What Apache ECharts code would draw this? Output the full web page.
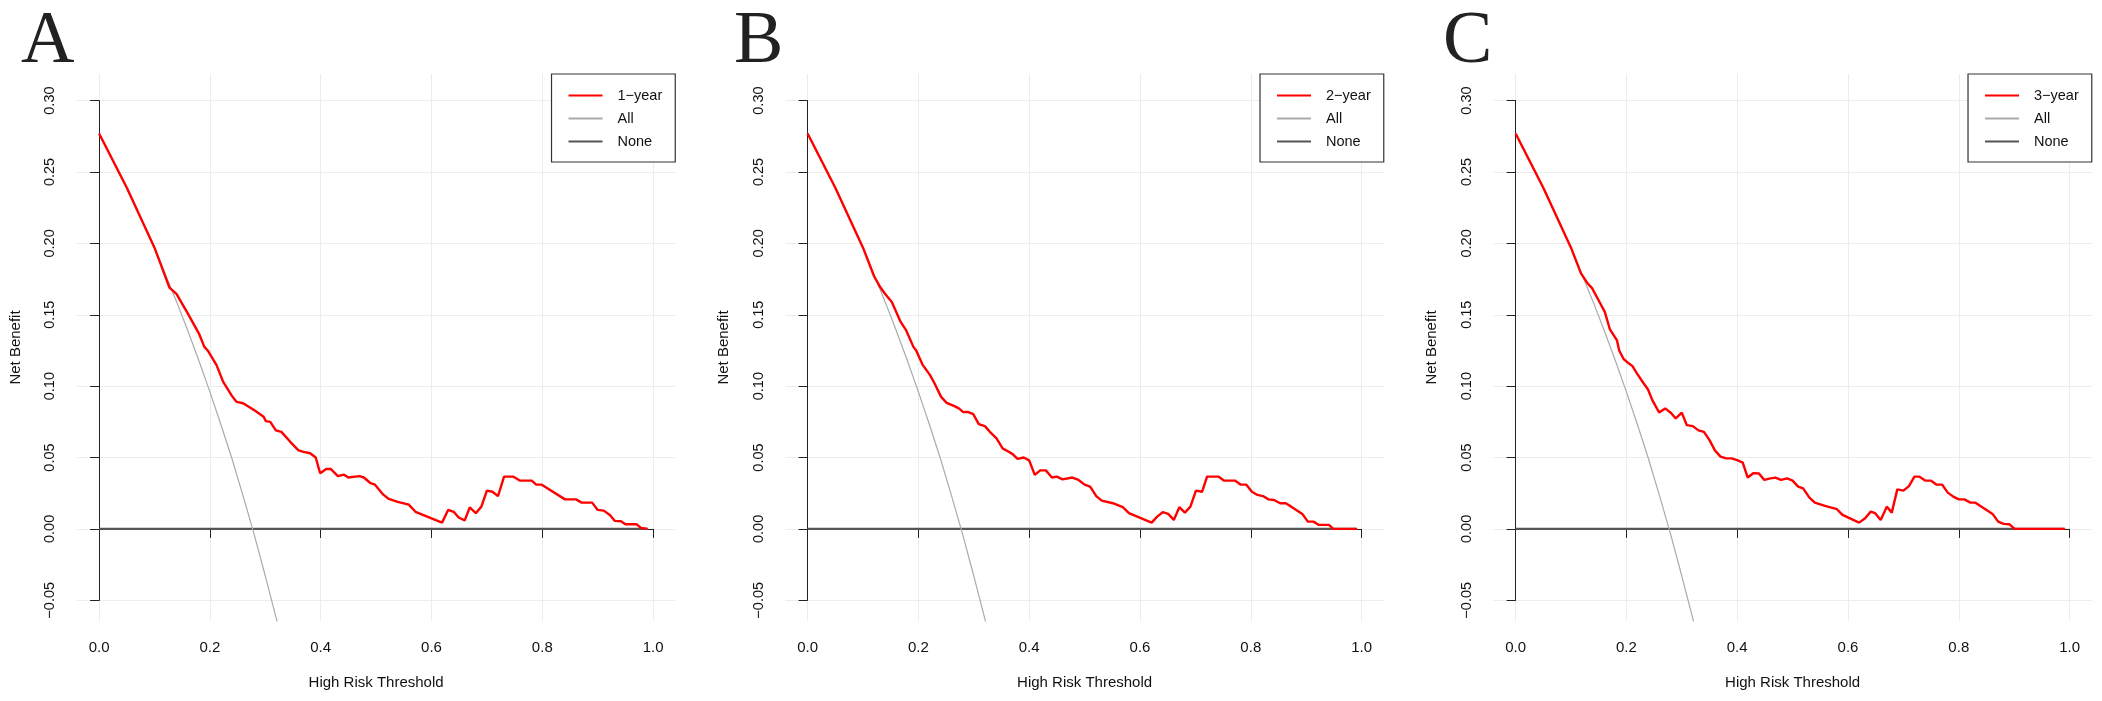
<!DOCTYPE html>
<html>
<head>
<meta charset="utf-8">
<title>Decision curves</title>
<script src="https://cdn.jsdelivr.net/npm/echarts@6/dist/echarts.min.js"></script>
<style>
    html, body { margin: 0; padding: 0; background: #fff; }
    #main { width: 2102px; height: 701px; }
</style>
</head>
<body>
<div id="main"></div>
<script>
// tick values of both axes
const xTicks = [0, 0.2, 0.4, 0.6, 0.8, 1.0];
const yTicks = [-0.05, 0, 0.05, 0.10, 0.15, 0.20, 0.25, 0.30];

const panelLetters = ['A', 'B', 'C'];
const modelNames = ['1-year', '2-year', '3-year'];

// net benefit of the model, [threshold, net benefit]
const nb1Year = [
    [0, 0.277], [0.05, 0.239], [0.10, 0.197], [0.127, 0.169], [0.14, 0.1645], [0.148, 0.159],
    [0.16, 0.151], [0.18, 0.137], [0.19, 0.1275], [0.196, 0.125], [0.212, 0.1147], [0.224, 0.103],
    [0.24, 0.093], [0.248, 0.089], [0.26, 0.088], [0.281, 0.083], [0.297, 0.0786], [0.301, 0.0755],
    [0.309, 0.075], [0.319, 0.069], [0.329, 0.068], [0.345, 0.061], [0.36, 0.055], [0.369, 0.054],
    [0.381, 0.053], [0.391, 0.050], [0.399, 0.039], [0.41, 0.042], [0.418, 0.042], [0.431, 0.037],
    [0.442, 0.038], [0.45, 0.036], [0.47, 0.037], [0.478, 0.036], [0.49, 0.032], [0.498, 0.031],
    [0.513, 0.024], [0.523, 0.021], [0.539, 0.019], [0.559, 0.017], [0.571, 0.012], [0.619, 0.0044],
    [0.63, 0.0133], [0.64, 0.012], [0.649, 0.008], [0.66, 0.006], [0.669, 0.015], [0.68, 0.011],
    [0.69, 0.0156], [0.70, 0.0268], [0.71, 0.026], [0.72, 0.023], [0.731, 0.0366], [0.748, 0.0366],
    [0.76, 0.0338], [0.781, 0.0338], [0.789, 0.031], [0.799, 0.031], [0.841, 0.0207], [0.861, 0.0207],
    [0.871, 0.0184], [0.89, 0.0184], [0.90, 0.0133], [0.911, 0.0128], [0.922, 0.0098], [0.931, 0.0056],
    [0.942, 0.0054], [0.95, 0.0033], [0.97, 0.0033], [0.978, 0.0007], [0.99, 0]
];
const nb2Year = [
    [0, 0.277], [0.05, 0.239], [0.10, 0.197], [0.12, 0.177], [0.13, 0.170], [0.14, 0.1645],
    [0.152, 0.159], [0.168, 0.145], [0.178, 0.139], [0.191, 0.1275], [0.196, 0.125], [0.208, 0.1147],
    [0.221, 0.1077], [0.229, 0.102], [0.241, 0.0925], [0.251, 0.0883], [0.265, 0.086], [0.273, 0.0844],
    [0.281, 0.0818], [0.289, 0.082], [0.299, 0.0804], [0.309, 0.0734], [0.32, 0.072], [0.329, 0.068],
    [0.341, 0.0634], [0.352, 0.0564], [0.363, 0.054], [0.37, 0.0524], [0.379, 0.049], [0.39, 0.050],
    [0.40, 0.048], [0.41, 0.0378], [0.42, 0.041], [0.43, 0.041], [0.441, 0.036], [0.45, 0.0366],
    [0.46, 0.0347], [0.478, 0.036], [0.489, 0.0343], [0.50, 0.031], [0.51, 0.0296], [0.521, 0.023],
    [0.531, 0.0198], [0.551, 0.018], [0.569, 0.0152], [0.58, 0.011], [0.621, 0.0044], [0.631, 0.0086],
    [0.641, 0.0117], [0.651, 0.0105], [0.661, 0.0063], [0.671, 0.0152], [0.681, 0.0114], [0.691, 0.0156],
    [0.701, 0.0268], [0.712, 0.026], [0.721, 0.0366], [0.742, 0.0366], [0.752, 0.0338], [0.772, 0.0338],
    [0.782, 0.031], [0.792, 0.031], [0.802, 0.026], [0.812, 0.0238], [0.822, 0.023], [0.832, 0.0207],
    [0.842, 0.0203], [0.853, 0.018], [0.863, 0.018], [0.873, 0.0156], [0.882, 0.0133], [0.893, 0.0105],
    [0.903, 0.0051], [0.913, 0.0051], [0.923, 0.0028], [0.941, 0.0028], [0.949, 0], [0.992, 0]
];
const nb3Year = [
    [0, 0.277], [0.05, 0.239], [0.10, 0.197], [0.118, 0.179], [0.13, 0.172], [0.138, 0.1687],
    [0.15, 0.160], [0.161, 0.152], [0.17, 0.140], [0.183, 0.132], [0.187, 0.125], [0.195, 0.119],
    [0.204, 0.116], [0.211, 0.114], [0.219, 0.109], [0.231, 0.102], [0.239, 0.0977], [0.247, 0.090],
    [0.259, 0.0816], [0.27, 0.0844], [0.281, 0.081], [0.289, 0.0774], [0.30, 0.0814], [0.309, 0.0727],
    [0.32, 0.072], [0.33, 0.069], [0.34, 0.068], [0.35, 0.0622], [0.36, 0.0548], [0.37, 0.0506],
    [0.38, 0.0494], [0.39, 0.0494], [0.401, 0.048], [0.41, 0.0464], [0.419, 0.036], [0.429, 0.039],
    [0.439, 0.0389], [0.449, 0.0343], [0.46, 0.0354], [0.469, 0.0359], [0.479, 0.0343], [0.49, 0.0354],
    [0.50, 0.0338], [0.51, 0.0296], [0.519, 0.0284], [0.53, 0.0221], [0.54, 0.0184], [0.56, 0.016],
    [0.58, 0.0138], [0.59, 0.0098], [0.62, 0.0044], [0.631, 0.0075], [0.641, 0.0121], [0.649, 0.011],
    [0.659, 0.0063], [0.67, 0.0156], [0.679, 0.0114], [0.689, 0.0277], [0.70, 0.0268], [0.71, 0.030],
    [0.72, 0.0366], [0.729, 0.0366], [0.74, 0.0338], [0.75, 0.0338], [0.76, 0.031], [0.77, 0.031],
    [0.78, 0.0254], [0.79, 0.0226], [0.80, 0.0207], [0.81, 0.0207], [0.821, 0.0184], [0.83, 0.0184],
    [0.841, 0.0156], [0.85, 0.0133], [0.861, 0.0105], [0.871, 0.0051], [0.881, 0.0035], [0.891, 0.0033],
    [0.901, 0], [0.992, 0]
];
const modelCurves = [nb1Year, nb2Year, nb3Year];

// treat-all and treat-none reference curves (same in all three panels)
const treatAll = [
    [0, 0.277], [0.02, 0.262], [0.04, 0.247], [0.06, 0.231], [0.08, 0.214], [0.10, 0.197],
    [0.12, 0.178], [0.14, 0.159], [0.16, 0.139], [0.18, 0.118], [0.20, 0.096], [0.22, 0.073],
    [0.24, 0.049], [0.26, 0.023], [0.28, -0.004], [0.30, -0.033], [0.32, -0.063], [0.33, -0.079]
];
const treatNone = [[0, 0], [0.99, 0]];

// layout, in pixels
const FONT = '"Liberation Sans", Arial, Helvetica, sans-serif';
const SERIF = '"Liberation Serif", "Times New Roman", serif';
const W = 2102;
const panelX0 = [99.1, 807.6, 1515.6];      // pixel of threshold 0
const letterX = [21, 734, 1443];
const unitX = 554;                          // pixels per threshold unit
const yTopPx = 100.6, yBotPx = 600.3;       // pixels of 0.30 and -0.05
const plotTop = 74, plotBottom = 621;
const pxPerY = (yBotPx - yTopPx) / 0.35;
const plotYMin = -0.05 - (plotBottom - yBotPx) / pxPerY;
const plotYMax = 0.30 + (yTopPx - plotTop) / pxPerY;

const chart = echarts.init(document.getElementById('main'), null, {renderer: 'canvas'});

const option = {
    backgroundColor: '#fff',
    animation: false,
    grid: [],
    xAxis: [],
    yAxis: [],
    legend: [],
    series: [],
    graphic: []
};

const minus = function (s) {
    return String(s).replace('-', '\u2212');
};

panelX0.forEach(function (x0, i) {
    const plotLeft = x0 - 0.04 * unitX;
    const plotWidth = 1.08 * unitX;
    const gPlot = option.grid.length;
    const gAxis = gPlot + 1;

    // plot region: data + grid lines + axis titles
    option.grid.push({
        left: plotLeft, width: plotWidth, top: plotTop, height: plotBottom - plotTop,
        containLabel: false, outerBoundsMode: 'none'
    });
    // tick range: R style axes
    option.grid.push({
        left: x0, width: unitX, top: yTopPx, height: yBotPx - yTopPx,
        containLabel: false, outerBoundsMode: 'none'
    });

    option.xAxis.push({
        type: 'value', gridIndex: gPlot, min: -0.04, max: 1.04,
        axisLine: {show: false},
        axisTick: {show: false, customValues: xTicks},
        axisLabel: {show: false},
        splitLine: {show: true, lineStyle: {color: '#ececec', width: 1}},
        name: 'High Risk Threshold', nameLocation: 'middle', nameGap: 54,
        nameTextStyle: {fontFamily: FONT, fontSize: 15, color: '#111'}
    });
    option.yAxis.push({
        type: 'value', gridIndex: gPlot, min: plotYMin, max: plotYMax,
        axisLine: {show: false},
        axisTick: {show: false, customValues: yTicks},
        axisLabel: {show: false},
        splitLine: {show: true, lineStyle: {color: '#ececec', width: 1}},
        name: 'Net Benefit', nameLocation: 'middle', nameGap: 54,
        nameTextStyle: {fontFamily: FONT, fontSize: 15, color: '#111'}
    });

    option.xAxis.push({
        type: 'value', gridIndex: gAxis, min: xTicks[0], max: xTicks[xTicks.length - 1], interval: 0.2,
        offset: plotBottom - yBotPx,
        axisLine: {show: true, lineStyle: {color: '#222', width: 1}},
        axisTick: {show: true, length: 9, lineStyle: {color: '#222', width: 1}},
        axisLabel: {
            show: true, margin: 19, fontFamily: FONT, fontSize: 15, color: '#111',
            showMinLabel: true, showMaxLabel: true,
            formatter: function (v) { return v.toFixed(1); }
        },
        splitLine: {show: false}
    });
    option.yAxis.push({
        type: 'value', gridIndex: gAxis, min: yTicks[0], max: yTicks[yTicks.length - 1], interval: 0.05,
        offset: 0.04 * unitX,
        axisLine: {show: true, lineStyle: {color: '#222', width: 1}},
        axisTick: {show: true, length: 9, lineStyle: {color: '#222', width: 1}},
        axisLabel: {
            show: true, rotate: 90, margin: 19, fontFamily: FONT, fontSize: 14.5, color: '#111',
            showMinLabel: true, showMaxLabel: true,
            formatter: function (v) { return minus(v.toFixed(2)); }
        },
        splitLine: {show: false}
    });

    option.series.push({
        name: 'None', type: 'line', xAxisIndex: gPlot, yAxisIndex: gPlot,
        data: treatNone, symbol: 'none', z: 2,
        lineStyle: {color: '#555', width: 2.2}, itemStyle: {color: '#555'}
    });
    option.series.push({
        name: 'All', type: 'line', xAxisIndex: gPlot, yAxisIndex: gPlot,
        data: treatAll, symbol: 'none', z: 3, clip: true,
        lineStyle: {color: '#aaa', width: 1.2}, itemStyle: {color: '#aaa'}
    });
    option.series.push({
        name: modelNames[i], type: 'line', xAxisIndex: gPlot, yAxisIndex: gPlot,
        data: modelCurves[i], symbol: 'none', z: 4,
        lineStyle: {color: '#f00', width: 2.4}, itemStyle: {color: '#f00'}
    });

    option.legend.push({
        orient: 'vertical',
        right: W - (x0 + 1.04 * unitX),
        top: plotTop,
        data: [modelNames[i], 'All', 'None'],
        itemWidth: 34, itemHeight: 14, itemGap: 8,
        padding: [14, 13, 13, 16],
        borderColor: '#333', borderWidth: 1.2, borderRadius: 0,
        backgroundColor: '#fff',
        selectedMode: false,
        formatter: minus,
        // hide the symbol drawn on the legend line
        itemStyle: {opacity: 0, color: 'rgba(0,0,0,0)', borderWidth: 0},
        textStyle: {fontFamily: FONT, fontSize: 14.5, color: '#111', padding: [0, 0, 0, 10]}
    });

    option.graphic.push({
        type: 'text', x: letterX[i], y: 6, silent: true,
        style: {text: panelLetters[i], font: '74px ' + SERIF, fill: '#222', align: 'left', verticalAlign: 'top'}
    });
});

chart.setOption(option);
</script>
</body>
</html>
